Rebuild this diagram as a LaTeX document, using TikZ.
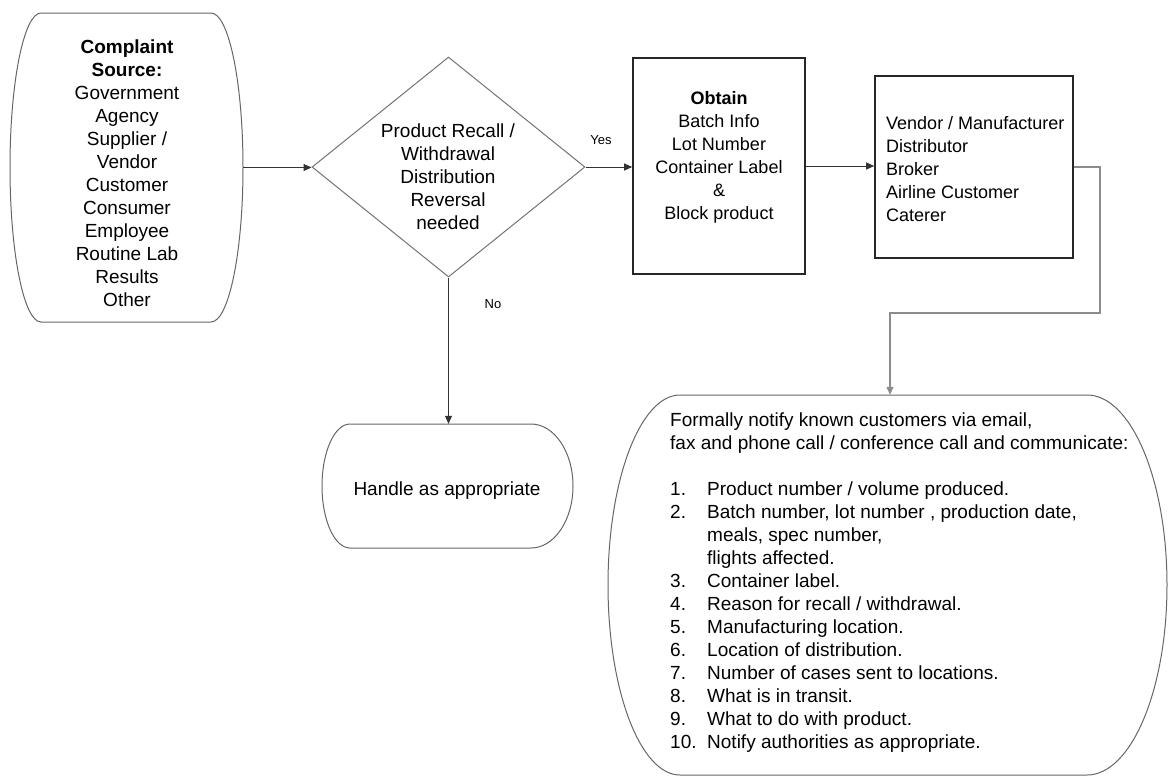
\documentclass[tikz,border=0pt]{standalone}
\usepackage{fontspec}
\setmainfont{Liberation Sans}
\usetikzlibrary{shapes.geometric,arrows.meta,calc}

\tikzset{
  outl/.style={draw=black!60,line width=1pt},
  boxst/.style={rectangle,draw=black!85,line width=1.6pt,inner sep=0pt},
  decst/.style={diamond,draw=black!55,line width=1pt,inner sep=0pt},
  holder/.style={rectangle,draw=none,inner sep=0pt},
  conn/.style={draw=black!80,line width=1pt,-{Triangle[length=8pt,width=7pt]}},
  elbow/.style={draw=black!45,line width=1.3pt,-{Triangle[length=8pt,width=7pt]}},
  txt/.style={align=center,font=\fontsize{19}{23}\selectfont,inner sep=0pt},
  boxtxt/.style={font=\fontsize{18}{23}\selectfont,inner sep=0pt},
  small/.style={font=\fontsize{13}{15}\selectfont,inner sep=0pt},
}

% capsule outline: flat top and bottom, elliptic sides
% #1,#2 = left, top; #3,#4 = right, bottom; #5,#6 = left/right side radius
\newcommand\capsuleoutline[6]{%
  \draw[outl] (#1+#5,#2) -- (#3-#6,#2)
    arc[start angle=90,end angle=-90,x radius=#6pt,y radius={(#4-#2)*0.5pt}]
    -- (#1+#5,#4)
    arc[start angle=270,end angle=90,x radius=#5pt,y radius={(#4-#2)*0.5pt}]
    -- cycle;}

\begin{document}
\begin{tikzpicture}[x=1pt,y=-1pt]
\useasboundingbox (0,0) rectangle (1168,777);

% complaint source
\node[holder,minimum width=233pt,minimum height=309pt] (src) at (126.5,167.5) {};
\capsuleoutline{10}{13}{243}{322}{31}{32}
\node[txt] (srctxt) at (127,173) {\textbf{Complaint}\\\textbf{Source:}\\Government\\Agency\\Supplier /\\Vendor\\Customer\\Consumer\\Employee\\Routine Lab\\Results\\Other};

% decision
\node[decst,minimum width=273pt,minimum height=220pt] (dec) at (448.5,167) {};
\node[txt] (dectxt) at (448,177) {Product Recall /\\Withdrawal\\Distribution\\Reversal\\needed};

% obtain box
\node[boxst,minimum width=172pt,minimum height=216pt] (obt) at (719,166) {};
\node[boxtxt,align=center] (obttxt) at (719,157) {\textbf{Obtain}\\Batch Info\\Lot Number\\Container Label\\\&\\Block product};

% parties box
\node[boxst,minimum width=198pt,minimum height=182pt] (vend) at (974,167) {};
\node[boxtxt,align=left,anchor=west] (vendtxt) at (886,169) {Vendor / Manufacturer\\Distributor\\Broker\\Airline Customer\\Caterer};

% handle
\node[holder,minimum width=251pt,minimum height=124pt] (hand) at (447.5,486) {};
\capsuleoutline{322}{424}{573}{548}{28}{42}
\node[txt] (handtxt) at (447,491) {Handle as appropriate};

% notification
\node[holder,minimum width=559pt,minimum height=380pt] (note) at (887.5,585) {};
\capsuleoutline{608}{395}{1167}{775}{72}{80}
\node[txt,align=left,anchor=west] (notetxt) at (670,583) {Formally notify known customers via email,\\
fax and phone call / conference call and communicate:\\[23pt]
\makebox[37pt][l]{1.}Product number / volume produced.\\
\makebox[37pt][l]{2.}Batch number, lot number , production date,\\
\hspace*{37pt}meals, spec number,\\
\hspace*{37pt}flights affected.\\
\makebox[37pt][l]{3.}Container label.\\
\makebox[37pt][l]{4.}Reason for recall / withdrawal.\\
\makebox[37pt][l]{5.}Manufacturing location.\\
\makebox[37pt][l]{6.}Location of distribution.\\
\makebox[37pt][l]{7.}Number of cases sent to locations.\\
\makebox[37pt][l]{8.}What is in transit.\\
\makebox[37pt][l]{9.}What to do with product.\\
\makebox[37pt][l]{10.}Notify authorities as appropriate.};

% connectors
\draw[conn] (src.east) -- (src.east -| dec.west);
\draw[conn] (dec.east) -- (dec.east -| obt.west);
\draw[conn] (obt.east) -- (obt.east -| vend.west);
\draw[conn] (dec.south) -- (dec.south |- hand.north);
\coordinate (e1) at (1100,313);
\coordinate (e2) at (890,313);
\draw[elbow] (vend.east) -| (e1) -- (e2) -- (e2 |- note.north);

% branch labels
\node[small] (yes) at (601,140) {Yes};
\node[small] (no) at (493,304) {No};
\end{tikzpicture}
\end{document}
